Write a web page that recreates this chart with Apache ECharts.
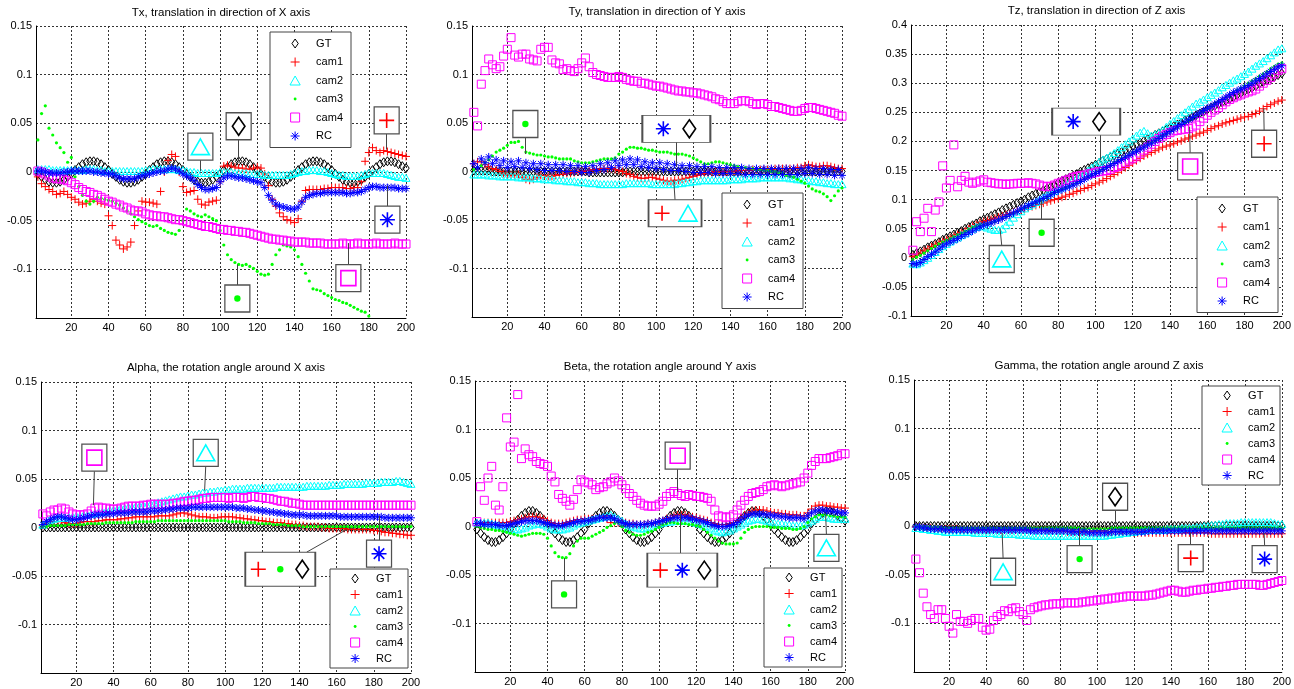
<!DOCTYPE html>
<html>
<head>
<meta charset="UTF-8">
<script src="https://cdn.jsdelivr.net/npm/echarts@6/dist/echarts.min.js"></script>
<style>
  body{margin:0;background:#fff}
  #main{width:1294px;height:689px}
</style>
</head>
<body>
<div id="main"></div>
<script>
// frame numbers (x), every 2nd frame
var frames = [2,4,6,8,10,12,14,16,18,20,
  22,24,26,28,30,32,34,36,38,40,
  42,44,46,48,50,52,54,56,58,60,
  62,64,66,68,70,72,74,76,78,80,
  82,84,86,88,90,92,94,96,98,100,
  102,104,106,108,110,112,114,116,118,120,
  122,124,126,128,130,132,134,136,138,140,
  142,144,146,148,150,152,154,156,158,160,
  162,164,166,168,170,172,174,176,178,180,
  182,184,186,188,190,192,194,196,198,200];
var seriesNames = ['GT','cam1','cam2','cam3','cam4','RC'];

// ---- Tx
var txGT = [-0.002,-0.005,-0.008,-0.010,-0.011,-0.011,-0.010,-0.008,-0.005,-0.002,
  0.002,0.005,0.008,0.010,0.011,0.011,0.010,0.008,0.005,0.002,
  -0.002,-0.005,-0.008,-0.010,-0.011,-0.011,-0.010,-0.008,-0.005,-0.002,
  0.002,0.005,0.008,0.010,0.011,0.011,0.010,0.008,0.005,0.002,
  -0.002,-0.005,-0.008,-0.010,-0.011,-0.011,-0.010,-0.008,-0.005,-0.002,
  0.002,0.005,0.008,0.010,0.011,0.011,0.010,0.008,0.005,0.002,
  -0.002,-0.005,-0.008,-0.010,-0.011,-0.011,-0.010,-0.008,-0.005,-0.002,
  0.002,0.005,0.008,0.010,0.011,0.011,0.010,0.008,0.005,0.002,
  -0.002,-0.005,-0.008,-0.010,-0.011,-0.011,-0.010,-0.008,-0.005,-0.002,
  0.002,0.005,0.008,0.010,0.011,0.011,0.010,0.008,0.006,0.004];
var txCam1 = [-0.005,-0.012,-0.015,-0.018,-0.020,-0.023,-0.022,-0.020,-0.023,-0.026,
  -0.028,-0.031,-0.033,-0.032,-0.030,-0.028,-0.030,-0.032,-0.033,-0.045,
  -0.055,-0.070,-0.075,-0.079,-0.077,-0.072,-0.055,-0.040,-0.030,-0.031,
  -0.031,-0.032,-0.033,-0.020,0.000,0.012,0.018,0.016,0.000,-0.015,
  -0.021,-0.020,-0.019,-0.028,-0.033,-0.034,-0.031,-0.030,-0.029,-0.010,
  0.006,0.007,0.006,0.005,0.004,0.004,0.003,0.003,0.004,0.005,
  0.004,-0.002,-0.014,-0.028,-0.035,-0.042,-0.046,-0.049,-0.050,-0.052,
  -0.048,-0.030,-0.019,-0.018,-0.018,-0.018,-0.018,-0.017,-0.017,-0.016,
  -0.016,-0.016,-0.016,-0.017,-0.017,-0.016,-0.016,-0.010,0.011,0.020,
  0.025,0.022,0.020,0.022,0.021,0.020,0.019,0.018,0.017,0.016];
var txCam2 = [0.003,0.003,0.003,0.003,0.002,0.002,0.002,0.002,0.002,0.002,
  0.002,0.002,0.002,0.003,0.003,0.003,0.002,0.002,0.001,0.001,
  0.001,0.001,0.001,0.001,0.001,0.001,0.001,0.001,0.001,0.002,
  0.002,0.003,0.003,0.003,0.003,0.003,0.003,0.003,0.002,0.002,
  0.001,0.000,0.000,-0.001,-0.001,-0.001,-0.001,-0.001,-0.001,0.000,
  0.000,0.000,0.000,-0.001,-0.001,-0.001,-0.001,-0.002,-0.002,-0.002,
  -0.002,-0.003,-0.003,-0.003,-0.003,-0.003,-0.003,-0.003,-0.002,-0.001,
  0.000,0.001,0.001,0.002,0.002,0.002,0.001,0.001,0.000,-0.001,
  -0.002,-0.003,-0.003,-0.004,-0.004,-0.004,-0.004,-0.003,-0.002,-0.001,
  -0.001,-0.001,-0.001,-0.001,-0.002,-0.003,-0.004,-0.005,-0.005,-0.006];
var txCam3 = [0.033,0.060,0.068,0.045,0.038,0.030,0.025,0.020,0.010,0.015,
  -0.005,-0.015,-0.024,-0.030,-0.033,-0.030,-0.026,-0.027,-0.028,-0.029,
  -0.030,-0.032,-0.034,-0.037,-0.040,-0.043,-0.046,-0.049,-0.051,-0.053,
  -0.055,-0.056,-0.055,-0.058,-0.060,-0.062,-0.063,-0.064,-0.060,-0.050,
  -0.038,-0.040,-0.043,-0.045,-0.046,-0.044,-0.046,-0.048,-0.050,-0.060,
  -0.075,-0.085,-0.090,-0.093,-0.095,-0.096,-0.095,-0.097,-0.099,-0.102,
  -0.105,-0.106,-0.105,-0.095,-0.085,-0.080,-0.075,-0.076,-0.077,-0.080,
  -0.087,-0.095,-0.104,-0.112,-0.120,-0.121,-0.122,-0.125,-0.127,-0.129,
  -0.131,-0.132,-0.134,-0.135,-0.137,-0.139,-0.141,-0.143,-0.144,-0.148,
  -0.152,-0.154,-0.156,-0.158,-0.160,-0.162,-0.163,-0.165,-0.166,-0.168];
var txCam4 = [0.001,0.000,-0.002,-0.004,-0.006,-0.007,-0.007,-0.008,-0.009,-0.011,
  -0.013,-0.016,-0.018,-0.020,-0.021,-0.023,-0.024,-0.026,-0.028,-0.030,
  -0.031,-0.033,-0.034,-0.036,-0.037,-0.039,-0.040,-0.040,-0.041,-0.043,
  -0.044,-0.045,-0.045,-0.046,-0.046,-0.047,-0.048,-0.049,-0.049,-0.050,
  -0.051,-0.052,-0.053,-0.054,-0.055,-0.056,-0.056,-0.057,-0.058,-0.059,
  -0.059,-0.060,-0.060,-0.061,-0.061,-0.062,-0.062,-0.063,-0.064,-0.065,
  -0.066,-0.067,-0.068,-0.069,-0.069,-0.070,-0.070,-0.071,-0.071,-0.072,
  -0.072,-0.072,-0.072,-0.073,-0.073,-0.073,-0.073,-0.074,-0.074,-0.074,
  -0.074,-0.074,-0.073,-0.074,-0.074,-0.074,-0.073,-0.074,-0.074,-0.074,
  -0.074,-0.073,-0.074,-0.074,-0.074,-0.074,-0.073,-0.074,-0.074,-0.074];
var txRC = [0.001,0.001,0.000,-0.001,-0.001,-0.001,-0.001,0.000,0.000,0.001,
  0.001,0.001,0.001,0.001,0.001,0.000,0.000,-0.001,-0.001,-0.002,
  -0.002,-0.004,-0.006,-0.007,-0.007,-0.007,-0.007,-0.005,-0.004,-0.003,
  -0.002,-0.001,0.000,0.001,0.001,0.003,0.004,0.003,0.001,-0.002,
  -0.004,-0.006,-0.009,-0.013,-0.016,-0.018,-0.018,-0.017,-0.016,-0.010,
  -0.006,-0.004,-0.004,-0.005,-0.006,-0.006,-0.007,-0.008,-0.009,-0.010,
  -0.011,-0.016,-0.024,-0.029,-0.033,-0.035,-0.036,-0.037,-0.038,-0.038,
  -0.036,-0.031,-0.026,-0.024,-0.023,-0.022,-0.022,-0.021,-0.021,-0.021,
  -0.021,-0.021,-0.021,-0.022,-0.022,-0.021,-0.021,-0.020,-0.018,-0.016,
  -0.015,-0.015,-0.016,-0.016,-0.016,-0.016,-0.016,-0.017,-0.017,-0.017];

// ---- Ty
var tyGT = [0.001,0.001,0.001,0.001,0.001,0.000,0.000,0.000,0.000,0.000,
  0.000,0.000,0.000,0.000,0.000,0.000,0.000,0.000,0.000,0.000,
  0.000,0.000,0.000,0.000,0.000,0.000,0.000,0.000,0.000,0.000,
  0.000,-0.001,-0.001,-0.001,-0.001,-0.001,-0.001,-0.001,-0.001,-0.001,
  -0.001,0.000,0.000,0.000,0.000,0.000,0.000,0.000,0.000,0.000,
  0.000,0.000,0.000,0.000,0.000,0.000,0.000,0.000,0.000,0.000,
  0.000,0.000,0.000,0.000,0.000,0.000,0.000,0.000,0.000,0.000,
  0.000,0.000,0.000,0.000,0.000,0.000,0.000,0.000,0.000,0.000,
  0.000,0.000,0.000,0.000,0.000,0.000,0.000,0.000,0.000,0.000,
  0.000,0.000,0.000,0.000,0.000,0.000,0.000,0.000,0.000,0.000];
var tyCam1 = [0.008,0.010,0.010,0.007,0.005,0.003,0.002,0.000,-0.002,-0.003,
  -0.004,-0.004,-0.003,-0.006,-0.008,-0.009,-0.008,-0.006,-0.004,-0.004,
  -0.005,-0.005,-0.004,-0.003,-0.003,-0.002,-0.002,-0.001,0.000,0.000,
  0.001,0.001,0.002,0.002,0.003,0.003,0.003,0.003,0.002,0.001,
  0.000,-0.002,-0.003,-0.005,-0.006,-0.007,-0.007,-0.006,-0.006,-0.007,
  -0.008,-0.009,-0.010,-0.010,-0.009,-0.009,-0.008,-0.007,-0.006,-0.005,
  -0.004,-0.003,-0.002,-0.001,-0.001,0.000,0.000,0.000,0.000,0.000,
  0.000,0.001,0.001,0.001,0.001,0.002,0.002,0.002,0.002,0.002,
  0.002,0.003,0.003,0.003,0.003,0.003,0.003,0.004,0.004,0.006,
  0.007,0.006,0.005,0.005,0.006,0.006,0.005,0.004,0.003,0.003];
var tyCam2 = [-0.003,-0.003,-0.003,-0.003,-0.004,-0.004,-0.004,-0.005,-0.005,-0.005,
  -0.005,-0.005,-0.006,-0.006,-0.006,-0.006,-0.007,-0.007,-0.007,-0.008,
  -0.008,-0.008,-0.009,-0.009,-0.009,-0.010,-0.010,-0.010,-0.011,-0.011,
  -0.011,-0.012,-0.012,-0.012,-0.013,-0.013,-0.013,-0.013,-0.013,-0.013,
  -0.013,-0.012,-0.012,-0.012,-0.012,-0.012,-0.012,-0.012,-0.013,-0.013,
  -0.013,-0.013,-0.013,-0.013,-0.013,-0.012,-0.012,-0.011,-0.011,-0.010,
  -0.010,-0.009,-0.009,-0.009,-0.009,-0.009,-0.009,-0.009,-0.009,-0.008,
  -0.008,-0.008,-0.008,-0.007,-0.007,-0.007,-0.007,-0.006,-0.006,-0.006,
  -0.006,-0.006,-0.006,-0.006,-0.006,-0.007,-0.007,-0.008,-0.008,-0.009,
  -0.009,-0.010,-0.010,-0.011,-0.011,-0.012,-0.012,-0.013,-0.013,-0.013];
var tyCam3 = [0.002,0.004,0.006,0.009,0.012,0.016,0.020,0.022,0.024,0.027,
  0.030,0.030,0.031,0.025,0.020,0.019,0.018,0.017,0.017,0.016,
  0.015,0.015,0.014,0.013,0.013,0.013,0.013,0.011,0.010,0.009,
  0.009,0.009,0.010,0.011,0.012,0.013,0.013,0.013,0.014,0.018,
  0.020,0.023,0.025,0.025,0.024,0.024,0.023,0.022,0.022,0.021,
  0.020,0.020,0.020,0.019,0.018,0.018,0.018,0.017,0.016,0.014,
  0.012,0.010,0.008,0.008,0.009,0.010,0.010,0.009,0.008,0.007,
  0.006,0.005,0.004,0.004,0.003,0.003,0.002,0.002,0.001,0.001,
  0.000,0.000,-0.001,-0.002,-0.004,-0.005,-0.006,-0.008,-0.010,-0.012,
  -0.015,-0.018,-0.020,-0.021,-0.023,-0.026,-0.030,-0.025,-0.020,-0.017];
var tyCam4 = [0.061,0.047,0.090,0.104,0.116,0.110,0.106,0.108,0.119,0.126,
  0.138,0.120,0.118,0.121,0.121,0.116,0.115,0.114,0.126,0.128,
  0.128,0.115,0.112,0.111,0.105,0.106,0.104,0.103,0.106,0.112,
  0.117,0.108,0.102,0.100,0.099,0.098,0.097,0.097,0.097,0.098,
  0.097,0.095,0.094,0.093,0.093,0.091,0.091,0.090,0.089,0.088,
  0.088,0.087,0.086,0.085,0.084,0.083,0.083,0.082,0.082,0.081,
  0.081,0.080,0.079,0.078,0.077,0.075,0.074,0.072,0.070,0.070,
  0.070,0.072,0.073,0.073,0.072,0.070,0.069,0.070,0.070,0.069,
  0.067,0.067,0.066,0.065,0.064,0.063,0.062,0.062,0.063,0.065,
  0.066,0.066,0.065,0.064,0.063,0.062,0.061,0.060,0.058,0.057];
var tyRC = [0.008,0.004,0.013,0.009,0.015,0.008,0.012,0.006,0.011,0.004,
  0.010,0.005,0.011,0.004,0.009,0.003,0.008,0.002,0.008,0.001,
  0.007,0.001,0.007,0.001,0.007,0.000,0.006,0.000,0.006,-0.001,
  0.005,-0.001,0.006,0.001,0.008,0.002,0.009,0.004,0.011,0.006,
  0.012,0.007,0.013,0.007,0.012,0.005,0.010,0.004,0.009,0.003,
  0.009,0.002,0.008,0.001,0.007,0.001,0.006,0.000,0.006,-0.001,
  0.005,-0.001,0.005,-0.001,0.005,-0.002,0.004,-0.002,0.004,-0.002,
  0.004,-0.002,0.004,-0.003,0.003,-0.003,0.003,-0.003,0.003,-0.003,
  0.003,-0.003,0.003,-0.003,0.003,-0.003,0.003,-0.003,0.003,-0.002,
  0.004,-0.002,0.003,-0.003,0.003,-0.003,0.002,-0.004,0.002,-0.004];

// ---- Tz
var tzGT = [0.005,0.008,0.011,0.014,0.018,0.021,0.024,0.027,0.031,0.034,
  0.037,0.040,0.043,0.046,0.050,0.053,0.056,0.059,0.063,0.066,
  0.069,0.072,0.075,0.078,0.082,0.085,0.088,0.091,0.094,0.097,
  0.100,0.104,0.107,0.110,0.113,0.116,0.119,0.122,0.125,0.129,
  0.132,0.135,0.138,0.141,0.144,0.148,0.151,0.154,0.157,0.160,
  0.163,0.167,0.170,0.173,0.176,0.179,0.182,0.185,0.188,0.192,
  0.195,0.198,0.201,0.204,0.207,0.211,0.214,0.217,0.220,0.223,
  0.226,0.229,0.232,0.236,0.239,0.242,0.245,0.248,0.251,0.255,
  0.258,0.261,0.264,0.267,0.270,0.273,0.276,0.280,0.283,0.286,
  0.289,0.292,0.295,0.299,0.302,0.305,0.308,0.311,0.314,0.317];
var tzCam1 = [0.002,0.005,0.008,0.012,0.015,0.019,0.022,0.025,0.028,0.031,
  0.034,0.037,0.040,0.043,0.046,0.050,0.054,0.057,0.060,0.062,
  0.064,0.066,0.068,0.070,0.072,0.074,0.076,0.078,0.080,0.082,
  0.084,0.086,0.088,0.090,0.092,0.094,0.096,0.098,0.100,0.102,
  0.104,0.106,0.109,0.111,0.114,0.116,0.119,0.121,0.124,0.127,
  0.130,0.133,0.136,0.140,0.143,0.147,0.151,0.155,0.159,0.163,
  0.167,0.171,0.175,0.178,0.181,0.184,0.187,0.190,0.192,0.194,
  0.196,0.199,0.201,0.204,0.206,0.209,0.211,0.214,0.216,0.219,
  0.222,0.225,0.227,0.230,0.232,0.234,0.236,0.238,0.240,0.242,
  0.243,0.246,0.248,0.252,0.256,0.260,0.263,0.266,0.269,0.271];
var tzCam2 = [-0.010,-0.011,-0.008,-0.004,0.000,0.005,0.010,0.015,0.020,0.024,
  0.028,0.032,0.035,0.039,0.042,0.046,0.050,0.053,0.055,0.054,
  0.052,0.050,0.048,0.048,0.050,0.056,0.062,0.069,0.075,0.080,
  0.085,0.089,0.092,0.096,0.100,0.104,0.108,0.112,0.115,0.119,
  0.122,0.126,0.130,0.134,0.137,0.141,0.145,0.150,0.155,0.160,
  0.165,0.169,0.172,0.176,0.180,0.185,0.190,0.195,0.200,0.205,
  0.210,0.215,0.218,0.214,0.210,0.212,0.215,0.220,0.225,0.230,
  0.235,0.240,0.245,0.250,0.255,0.260,0.265,0.268,0.272,0.276,
  0.280,0.284,0.288,0.293,0.297,0.301,0.305,0.308,0.312,0.316,
  0.320,0.325,0.330,0.334,0.338,0.343,0.348,0.353,0.358,0.360];
var tzCam3 = [-0.003,0.001,0.004,0.008,0.012,0.016,0.020,0.024,0.027,0.030,
  0.033,0.036,0.039,0.042,0.045,0.049,0.052,0.054,0.056,0.057,
  0.058,0.060,0.062,0.065,0.068,0.071,0.074,0.077,0.080,0.083,
  0.086,0.089,0.092,0.095,0.098,0.101,0.104,0.110,0.113,0.115,
  0.118,0.121,0.124,0.127,0.130,0.133,0.136,0.139,0.142,0.146,
  0.150,0.153,0.157,0.160,0.164,0.167,0.171,0.174,0.178,0.181,
  0.185,0.188,0.192,0.195,0.198,0.202,0.205,0.209,0.212,0.216,
  0.220,0.224,0.228,0.232,0.236,0.240,0.244,0.248,0.252,0.256,
  0.260,0.264,0.268,0.272,0.276,0.280,0.284,0.288,0.292,0.296,
  0.300,0.304,0.308,0.312,0.316,0.320,0.325,0.329,0.333,0.335];
var tzCam4 = [0.013,0.062,0.045,0.068,0.085,0.045,0.082,0.096,0.158,0.120,
  0.133,0.194,0.122,0.133,0.140,0.130,0.128,0.130,0.132,0.134,
  0.130,0.129,0.128,0.127,0.127,0.126,0.127,0.127,0.128,0.128,
  0.128,0.129,0.128,0.127,0.125,0.123,0.122,0.123,0.125,0.128,
  0.130,0.133,0.135,0.138,0.140,0.141,0.142,0.144,0.145,0.147,
  0.148,0.149,0.150,0.152,0.155,0.157,0.160,0.164,0.168,0.171,
  0.175,0.180,0.185,0.190,0.195,0.200,0.205,0.209,0.212,0.215,
  0.218,0.219,0.220,0.221,0.222,0.225,0.228,0.234,0.240,0.245,
  0.250,0.254,0.258,0.263,0.268,0.272,0.275,0.278,0.280,0.283,
  0.285,0.287,0.290,0.295,0.300,0.305,0.310,0.316,0.322,0.325];
var tzRC = [-0.010,-0.011,-0.008,-0.003,0.002,0.006,0.010,0.015,0.020,0.024,
  0.027,0.030,0.033,0.037,0.040,0.043,0.046,0.050,0.053,0.056,
  0.058,0.060,0.063,0.065,0.068,0.071,0.074,0.077,0.080,0.084,
  0.087,0.090,0.093,0.096,0.099,0.102,0.105,0.108,0.112,0.115,
  0.117,0.120,0.122,0.125,0.128,0.131,0.135,0.139,0.142,0.145,
  0.148,0.152,0.155,0.159,0.162,0.166,0.169,0.173,0.176,0.180,
  0.183,0.187,0.190,0.194,0.197,0.201,0.205,0.209,0.213,0.217,
  0.221,0.225,0.229,0.233,0.237,0.241,0.245,0.249,0.253,0.257,
  0.260,0.264,0.268,0.272,0.276,0.280,0.284,0.287,0.290,0.293,
  0.296,0.300,0.304,0.308,0.312,0.316,0.320,0.324,0.328,0.330];

// ---- Alpha
var alGT = [0,0,0,0,0,0,0,0,0,0, 0,0,0,0,0,0,0,0,0,0,
  0,0,0,0,0,0,0,0,0,0, 0,0,0,0,0,0,0,0,0,0,
  0,0,0,0,0,0,0,0,0,0, 0,0,0,0,0,0,0,0,0,0,
  0,0,0,0,0,0,0,0,0,0, 0,0,0,0,0,0,0,0,0,0,
  0,0,0,0,0,0,0,0,0,0, 0,0,0,0,0,0,0,0,0,0];
var alCam1 = [0.002,0.004,0.005,0.006,0.006,0.006,0.005,0.004,0.004,0.004,
  0.005,0.006,0.006,0.006,0.006,0.007,0.007,0.008,0.008,0.008,
  0.008,0.009,0.009,0.010,0.010,0.011,0.011,0.011,0.011,0.011,
  0.011,0.012,0.012,0.012,0.012,0.013,0.014,0.015,0.015,0.014,
  0.013,0.012,0.011,0.011,0.011,0.010,0.010,0.010,0.011,0.011,
  0.011,0.011,0.010,0.010,0.009,0.009,0.008,0.008,0.007,0.007,
  0.006,0.006,0.005,0.005,0.005,0.004,0.004,0.003,0.003,0.002,
  0.002,0.001,0.001,0.001,0.001,0.000,0.000,-0.001,-0.001,-0.001,
  -0.001,-0.001,-0.002,-0.002,-0.002,-0.002,-0.002,-0.002,-0.002,-0.003,
  -0.003,-0.004,-0.005,-0.005,-0.006,-0.006,-0.007,-0.007,-0.008,-0.008];
var alCam2 = [0.003,0.006,0.008,0.009,0.010,0.010,0.010,0.011,0.011,0.012,
  0.012,0.013,0.013,0.014,0.015,0.016,0.016,0.017,0.018,0.018,
  0.019,0.020,0.020,0.021,0.021,0.022,0.022,0.023,0.023,0.024,
  0.025,0.026,0.027,0.028,0.029,0.030,0.031,0.032,0.032,0.033,
  0.034,0.034,0.035,0.036,0.036,0.037,0.037,0.038,0.038,0.039,
  0.039,0.040,0.040,0.040,0.040,0.041,0.041,0.041,0.041,0.041,
  0.041,0.041,0.041,0.042,0.042,0.042,0.042,0.042,0.042,0.042,
  0.042,0.043,0.043,0.043,0.043,0.043,0.043,0.044,0.044,0.044,
  0.044,0.045,0.045,0.045,0.045,0.045,0.045,0.046,0.046,0.046,
  0.046,0.047,0.047,0.047,0.047,0.048,0.048,0.047,0.046,0.045];
var alCam3 = [0.001,0.001,0.002,0.002,0.002,0.002,0.002,0.003,0.003,0.003,
  0.003,0.003,0.004,0.004,0.004,0.004,0.004,0.005,0.005,0.005,
  0.005,0.005,0.005,0.005,0.005,0.006,0.006,0.006,0.006,0.006,
  0.006,0.007,0.007,0.007,0.007,0.007,0.007,0.007,0.007,0.007,
  0.007,0.007,0.007,0.007,0.007,0.007,0.007,0.007,0.007,0.007,
  0.006,0.006,0.006,0.006,0.005,0.005,0.005,0.005,0.004,0.004,
  0.004,0.004,0.003,0.003,0.003,0.003,0.002,0.002,0.002,0.002,
  0.001,0.001,0.001,0.001,0.001,0.001,0.001,0.001,0.001,0.001,
  0.001,0.001,0.001,0.001,0.001,0.001,0.001,0.001,0.001,0.001,
  0.001,0.001,0.001,0.001,0.001,0.001,0.001,0.001,0.001,0.001];
var alCam4 = [0.014,0.012,0.016,0.018,0.018,0.020,0.019,0.016,0.014,0.013,
  0.013,0.013,0.014,0.017,0.020,0.021,0.020,0.020,0.019,0.019,
  0.019,0.020,0.021,0.022,0.022,0.022,0.022,0.023,0.023,0.024,
  0.024,0.024,0.024,0.024,0.024,0.025,0.025,0.026,0.027,0.027,
  0.028,0.028,0.029,0.030,0.030,0.031,0.031,0.031,0.031,0.031,
  0.030,0.031,0.031,0.031,0.030,0.031,0.032,0.032,0.031,0.031,
  0.030,0.030,0.029,0.028,0.027,0.027,0.026,0.025,0.025,0.024,
  0.023,0.023,0.023,0.023,0.023,0.023,0.023,0.023,0.023,0.023,
  0.023,0.023,0.023,0.023,0.023,0.023,0.023,0.023,0.023,0.023,
  0.023,0.023,0.023,0.023,0.023,0.023,0.023,0.023,0.023,0.023];
var alRC = [0.003,0.006,0.008,0.010,0.011,0.011,0.010,0.009,0.008,0.008,
  0.009,0.010,0.011,0.012,0.013,0.013,0.013,0.014,0.014,0.014,
  0.015,0.015,0.015,0.015,0.016,0.016,0.016,0.016,0.016,0.017,
  0.017,0.017,0.018,0.018,0.019,0.019,0.020,0.020,0.020,0.020,
  0.021,0.021,0.021,0.021,0.021,0.021,0.021,0.021,0.021,0.021,
  0.021,0.021,0.020,0.020,0.020,0.019,0.019,0.018,0.018,0.017,
  0.017,0.016,0.016,0.015,0.015,0.014,0.014,0.013,0.013,0.013,
  0.013,0.012,0.012,0.012,0.012,0.012,0.012,0.012,0.012,0.012,
  0.011,0.011,0.011,0.011,0.011,0.011,0.011,0.011,0.011,0.011,
  0.011,0.011,0.010,0.010,0.010,0.010,0.010,0.010,0.010,0.010];

// ---- Beta
var beGT = [-0.003,-0.007,-0.011,-0.014,-0.016,-0.016,-0.014,-0.011,-0.007,-0.003,
  0.003,0.007,0.011,0.014,0.016,0.016,0.014,0.011,0.007,0.003,
  -0.003,-0.007,-0.011,-0.014,-0.016,-0.016,-0.014,-0.011,-0.007,-0.003,
  0.003,0.007,0.011,0.014,0.016,0.016,0.014,0.011,0.007,0.003,
  -0.003,-0.007,-0.011,-0.014,-0.016,-0.016,-0.014,-0.011,-0.007,-0.003,
  0.003,0.007,0.011,0.014,0.016,0.016,0.014,0.011,0.007,0.003,
  -0.003,-0.007,-0.011,-0.014,-0.016,-0.016,-0.014,-0.011,-0.007,-0.003,
  0.003,0.007,0.011,0.014,0.016,0.016,0.014,0.011,0.007,0.003,
  -0.003,-0.007,-0.011,-0.014,-0.016,-0.016,-0.014,-0.011,-0.007,-0.003,
  0.003,0.007,0.011,0.014,0.016,0.016,0.014,0.011,0.008,0.006];
var beCam1 = [0.003,0.003,0.004,0.004,0.004,0.004,0.004,0.004,0.004,0.005,
  0.006,0.007,0.008,0.009,0.010,0.010,0.010,0.009,0.008,0.006,
  0.004,0.003,0.003,0.003,0.004,0.005,0.006,0.007,0.007,0.008,
  0.008,0.008,0.008,0.009,0.010,0.008,0.004,0.004,0.004,0.004,
  0.004,0.003,0.003,0.002,0.002,0.002,0.003,0.003,0.004,0.005,
  0.006,0.008,0.009,0.011,0.012,0.012,0.012,0.011,0.010,0.009,
  0.008,0.007,0.006,0.004,0.003,0.002,0.002,0.002,0.003,0.004,
  0.006,0.009,0.012,0.014,0.016,0.017,0.017,0.017,0.016,0.015,
  0.014,0.014,0.013,0.013,0.012,0.012,0.012,0.011,0.011,0.014,
  0.018,0.021,0.022,0.022,0.021,0.021,0.020,0.020,0.019,0.019];
var beCam2 = [0.004,0.004,0.004,0.004,0.003,0.002,0.001,0.000,-0.002,-0.003,
  -0.003,-0.003,-0.002,-0.001,0.001,0.002,0.003,0.003,0.002,0.000,
  -0.002,-0.003,-0.003,-0.003,-0.002,-0.001,0.001,0.003,0.004,0.005,
  0.006,0.007,0.008,0.009,0.010,0.011,0.012,0.010,0.008,0.006,
  0.003,0.001,0.000,-0.001,-0.002,-0.002,-0.001,0.000,0.002,0.003,
  0.004,0.005,0.005,0.006,0.006,0.006,0.006,0.006,0.005,0.004,
  0.003,0.001,0.000,-0.002,-0.004,-0.005,-0.006,-0.005,-0.004,-0.002,
  0.000,0.002,0.004,0.006,0.007,0.008,0.008,0.007,0.006,0.005,
  0.004,0.003,0.003,0.002,0.002,0.001,0.001,0.001,0.002,0.004,
  0.006,0.008,0.010,0.010,0.010,0.009,0.008,0.008,0.008,0.008];
var beCam3 = [0.000,-0.001,-0.002,-0.003,-0.003,-0.004,-0.004,-0.005,-0.006,-0.007,
  -0.008,-0.009,-0.010,-0.009,-0.008,-0.007,-0.007,-0.007,-0.008,-0.012,
  -0.020,-0.027,-0.031,-0.032,-0.032,-0.028,-0.020,-0.015,-0.012,-0.012,
  -0.012,-0.010,-0.008,-0.006,-0.004,-0.001,0.001,0.003,0.004,0.000,
  -0.004,-0.006,-0.008,-0.009,-0.009,-0.008,-0.006,-0.005,-0.003,-0.001,
  0.002,0.003,0.004,0.004,0.003,0.003,0.003,0.002,0.002,0.001,
  0.000,-0.003,-0.006,-0.009,-0.012,-0.015,-0.017,-0.018,-0.018,-0.018,
  -0.017,-0.012,-0.006,-0.003,-0.001,0.000,0.000,0.000,0.000,-0.001,
  -0.001,-0.001,-0.002,-0.002,-0.002,-0.003,-0.003,-0.002,0.000,0.004,
  0.008,0.010,0.012,0.012,0.012,0.011,0.011,0.010,0.010,0.010];
var beCam4 = [0.005,0.041,0.027,0.050,0.062,0.022,0.017,0.041,0.112,0.082,
  0.087,0.136,0.070,0.080,0.074,0.072,0.067,0.065,0.064,0.062,
  0.052,0.046,0.033,0.029,0.026,0.022,0.028,0.038,0.048,0.046,
  0.045,0.043,0.038,0.040,0.041,0.044,0.046,0.050,0.047,0.043,
  0.039,0.034,0.031,0.027,0.024,0.022,0.021,0.021,0.021,0.023,
  0.026,0.031,0.034,0.036,0.034,0.032,0.031,0.033,0.032,0.031,
  0.031,0.030,0.029,0.026,0.017,0.011,0.010,0.009,0.010,0.012,
  0.017,0.022,0.027,0.031,0.034,0.035,0.036,0.038,0.041,0.042,
  0.043,0.042,0.041,0.042,0.043,0.044,0.045,0.046,0.050,0.055,
  0.063,0.067,0.070,0.070,0.070,0.071,0.072,0.073,0.075,0.075];
var beRC = [0.003,0.003,0.002,0.002,0.002,0.002,0.001,0.001,0.001,0.002,
  0.003,0.004,0.005,0.006,0.006,0.006,0.006,0.005,0.004,0.003,
  0.002,0.001,0.001,0.001,0.002,0.003,0.004,0.005,0.005,0.006,
  0.006,0.007,0.008,0.009,0.009,0.009,0.009,0.008,0.006,0.004,
  0.003,0.002,0.002,0.002,0.002,0.002,0.003,0.003,0.004,0.005,
  0.006,0.007,0.008,0.009,0.009,0.009,0.009,0.009,0.008,0.007,
  0.006,0.005,0.004,0.002,0.001,0.000,0.000,0.000,0.001,0.002,
  0.004,0.007,0.010,0.012,0.013,0.013,0.013,0.013,0.012,0.012,
  0.011,0.011,0.010,0.010,0.009,0.009,0.009,0.009,0.008,0.011,
  0.014,0.016,0.017,0.017,0.016,0.016,0.015,0.015,0.014,0.014];

// ---- Gamma
var gaGT = [0,0,0,0,0,0,0,0,0,0, 0,0,0,0,0,0,0,0,0,0,
  0,0,0,0,0,0,0,0,0,0, 0,0,0,0,0,0,0,0,0,0,
  0,0,0,0,0,0,0,0,0,0, 0,0,0,0,0,0,0,0,0,0,
  0,0,0,0,0,0,0,0,0,0, 0,0,0,0,0,0,0,0,0,0,
  0,0,0,0,0,0,0,0,0,0, 0,0,0,0,0,0,0,0,0,0];
var gaCam1 = [-0.001,-0.001,-0.002,-0.002,-0.002,-0.003,-0.003,-0.003,-0.003,-0.003,
  -0.003,-0.003,-0.004,-0.004,-0.004,-0.004,-0.004,-0.004,-0.004,-0.004,
  -0.004,-0.004,-0.004,-0.004,-0.004,-0.004,-0.004,-0.004,-0.004,-0.004,
  -0.004,-0.004,-0.004,-0.004,-0.004,-0.004,-0.005,-0.005,-0.005,-0.005,
  -0.005,-0.006,-0.006,-0.006,-0.006,-0.006,-0.006,-0.006,-0.005,-0.005,
  -0.005,-0.005,-0.006,-0.006,-0.006,-0.006,-0.007,-0.007,-0.007,-0.007,
  -0.007,-0.007,-0.007,-0.007,-0.007,-0.007,-0.007,-0.007,-0.007,-0.007,
  -0.007,-0.007,-0.007,-0.007,-0.007,-0.007,-0.007,-0.007,-0.007,-0.007,
  -0.008,-0.008,-0.008,-0.008,-0.008,-0.008,-0.008,-0.008,-0.008,-0.008,
  -0.008,-0.008,-0.008,-0.008,-0.008,-0.008,-0.008,-0.008,-0.008,-0.008];
var gaCam2 = [-0.002,-0.002,-0.003,-0.003,-0.004,-0.004,-0.005,-0.005,-0.006,-0.006,
  -0.006,-0.006,-0.006,-0.006,-0.006,-0.006,-0.007,-0.007,-0.007,-0.007,
  -0.007,-0.007,-0.008,-0.008,-0.008,-0.008,-0.008,-0.008,-0.009,-0.009,
  -0.009,-0.009,-0.010,-0.010,-0.010,-0.010,-0.010,-0.010,-0.010,-0.010,
  -0.010,-0.010,-0.010,-0.010,-0.010,-0.010,-0.010,-0.010,-0.010,-0.010,
  -0.010,-0.010,-0.009,-0.009,-0.008,-0.008,-0.007,-0.007,-0.006,-0.006,
  -0.005,-0.005,-0.004,-0.004,-0.004,-0.004,-0.004,-0.004,-0.003,-0.003,
  -0.003,-0.003,-0.002,-0.002,-0.002,-0.002,-0.001,-0.001,0.000,0.000,
  0.001,0.001,0.002,0.002,0.003,0.003,0.003,0.003,0.004,0.004,
  0.004,0.004,0.004,0.004,0.004,0.004,0.004,0.003,0.002,0.002];
var gaCam3 = [0.000,-0.001,-0.001,-0.001,-0.001,-0.001,-0.001,-0.002,-0.002,-0.002,
  -0.002,-0.002,-0.002,-0.002,-0.002,-0.002,-0.002,-0.002,-0.002,-0.002,
  -0.002,-0.002,-0.002,-0.002,-0.002,-0.002,-0.002,-0.002,-0.002,-0.002,
  -0.002,-0.002,-0.002,-0.002,-0.002,-0.002,-0.002,-0.002,-0.002,-0.002,
  -0.002,-0.002,-0.002,-0.002,-0.002,-0.003,-0.003,-0.003,-0.003,-0.003,
  -0.003,-0.003,-0.003,-0.002,-0.002,-0.002,-0.002,-0.002,-0.002,-0.002,
  -0.002,-0.002,-0.002,-0.002,-0.002,-0.002,-0.002,-0.002,-0.002,-0.002,
  -0.002,-0.002,-0.002,-0.002,-0.002,-0.002,-0.002,-0.002,-0.002,-0.002,
  -0.002,-0.002,-0.002,-0.002,-0.002,-0.002,-0.002,-0.002,-0.002,-0.002,
  -0.002,-0.002,-0.002,-0.002,-0.002,-0.002,-0.002,-0.002,-0.002,-0.002];
var gaCam4 = [-0.034,-0.048,-0.069,-0.083,-0.091,-0.095,-0.086,-0.086,-0.095,-0.103,
  -0.110,-0.091,-0.098,-0.098,-0.100,-0.097,-0.095,-0.095,-0.104,-0.107,
  -0.106,-0.097,-0.093,-0.091,-0.087,-0.088,-0.085,-0.084,-0.088,-0.091,
  -0.097,-0.086,-0.084,-0.083,-0.082,-0.081,-0.081,-0.080,-0.080,-0.080,
  -0.079,-0.079,-0.079,-0.079,-0.079,-0.078,-0.078,-0.077,-0.077,-0.076,
  -0.076,-0.075,-0.075,-0.074,-0.074,-0.073,-0.073,-0.072,-0.072,-0.072,
  -0.072,-0.072,-0.072,-0.071,-0.071,-0.070,-0.069,-0.068,-0.067,-0.066,
  -0.066,-0.067,-0.068,-0.068,-0.067,-0.066,-0.066,-0.065,-0.065,-0.064,
  -0.064,-0.063,-0.063,-0.062,-0.062,-0.061,-0.061,-0.060,-0.060,-0.060,
  -0.060,-0.060,-0.060,-0.061,-0.061,-0.060,-0.059,-0.058,-0.057,-0.056];
var gaRC = [-0.001,-0.001,-0.002,-0.002,-0.003,-0.003,-0.003,-0.003,-0.004,-0.004,
  -0.004,-0.004,-0.004,-0.004,-0.004,-0.004,-0.004,-0.004,-0.004,-0.004,
  -0.004,-0.004,-0.004,-0.004,-0.004,-0.004,-0.004,-0.004,-0.004,-0.004,
  -0.004,-0.005,-0.005,-0.005,-0.005,-0.005,-0.005,-0.005,-0.005,-0.005,
  -0.005,-0.005,-0.006,-0.006,-0.006,-0.006,-0.006,-0.007,-0.007,-0.007,
  -0.007,-0.007,-0.007,-0.006,-0.006,-0.006,-0.006,-0.006,-0.006,-0.006,
  -0.006,-0.006,-0.006,-0.005,-0.005,-0.005,-0.005,-0.005,-0.005,-0.005,
  -0.005,-0.005,-0.005,-0.005,-0.005,-0.005,-0.005,-0.005,-0.005,-0.005,
  -0.005,-0.005,-0.005,-0.005,-0.005,-0.005,-0.005,-0.005,-0.005,-0.005,
  -0.005,-0.005,-0.005,-0.005,-0.005,-0.005,-0.005,-0.005,-0.005,-0.005];

// data tips: box centre, markers shown, and the point the leader goes to
var notesTx = [
  {at:[89.4,0.026], icons:['cam2'], to:[89.4,0.001]},
  {at:[110,0.047], icons:['GT'], to:[110,0.011]},
  {at:[189.6,0.053], icons:['cam1'], to:[189.6,0.023]},
  {at:[190,-0.049], icons:['RC'], to:[190,-0.014]},
  {at:[169,-0.109], icons:['cam4'], to:[169,-0.073]},
  {at:[109.3,-0.13], icons:['cam3'], to:[109.3,-0.095]}
];
var notesTy = [
  {at:[29.7,0.049], icons:['cam3'], to:[29.7,0.018]},
  {at:[110.9,0.044], icons:['RC','GT'], w:68, to:[111,0.005]},
  {at:[110.2,-0.043], icons:['cam1','cam2'], w:53, to:[109.5,-0.0085]}
];
var notesTz = [
  {at:[95,0.234], icons:['RC','GT'], w:68, from:[102.8,0.2108], to:[102.8,0.168]},
  {at:[49.7,-0.002], icons:['cam2'], to:[48.8,0.05]},
  {at:[71.1,0.043], icons:['cam3'], to:[71.1,0.099]},
  {at:[150.8,0.157], icons:['cam4'], to:[150.5,0.225]},
  {at:[190.5,0.196], icons:['cam1'], to:[190.3,0.257]}
];
var notesAl = [
  {at:[29.7,0.072], icons:['cam4'], to:[29.2,0.023]},
  {at:[89.6,0.077], icons:['cam2'], to:[89,0.038]},
  {at:[129.7,-0.043], icons:['cam1','cam3','GT'], from:[143.9,-0.0254], to:[165.4,-0.002]},
  {at:[182.8,-0.027], icons:['RC'], to:[182.8,0.012]}
];
var notesBe = [
  {at:[110,0.073], icons:['cam4'], to:[110,0.036]},
  {at:[48.9,-0.07], icons:['cam3'], to:[48.9,-0.0325]},
  {at:[112.5,-0.045], icons:['cam1','RC','GT'], from:[111.3,-0.0275], to:[111.3,0.0154]},
  {at:[190,-0.022], icons:['cam2'], to:[189.6,0.012]}
];
var notesGa = [
  {at:[109.8,0.03], icons:['GT'], to:[109.8,0.002]},
  {at:[49.2,-0.047], icons:['cam2'], to:[48.7,-0.007]},
  {at:[90.6,-0.034], icons:['cam3'], to:[90.6,-0.002]},
  {at:[150.7,-0.033], icons:['cam1'], to:[150.7,-0.007]},
  {at:[190.7,-0.034], icons:['RC'], to:[190.4,-0.007]}
];

// marker look, MATLAB style
var marks = {
  GT:   {path:'path://M5,0L8.5,5L5,10L1.5,5Z', size:9, tip:18, fill:'rgba(0,0,0,0)', line:'#000000'},
  cam1: {path:'path://M5,0L5,10M0,5L10,5', size:8, tip:15, fill:'rgba(0,0,0,0)', line:'#ff0000'},
  cam2: {path:'path://M5,0.6L10,9.4L0,9.4Z', size:8, tip:18, fill:'rgba(0,0,0,0)', line:'#00ffff'},
  cam3: {path:'path://M0,0L0,0M10,10L10,10M5,3.4A1.6,1.6,0,1,1,5,6.6A1.6,1.6,0,1,1,5,3.4Z', size:10, tip:20, fill:'#00ff00', line:null},
  cam4: {path:'path://M0,0L10,0L10,10L0,10Z', size:8, tip:15, fill:'rgba(0,0,0,0)', line:'#ff00ff'},
  RC:   {path:'path://M5,0L5,10M0,5L10,5M1.5,1.5L8.5,8.5M8.5,1.5L1.5,8.5', size:8, tip:15, fill:'rgba(0,0,0,0)', line:'#0000ff'}
};

var panels = [
  {title:'Tx, translation in direction of X axis', vals:[txGT,txCam1,txCam2,txCam3,txCam4,txRC],
   y:[-0.15,0.15], grid:[36,26,370,292], titleTop:7, legend:[270,32], big:true, notes:notesTx, upp:986.7},
  {title:'Ty, translation in direction of Y axis', vals:[tyGT,tyCam1,tyCam2,tyCam3,tyCam4,tyRC],
   y:[-0.15,0.15], grid:[472,26,370,291], titleTop:6, legend:[722,193], big:true, notes:notesTy, upp:980},
  {title:'Tz, translation in direction of Z axis', vals:[tzGT,tzCam1,tzCam2,tzCam3,tzCam4,tzRC],
   y:[-0.1,0.4], grid:[911,25,371,291], titleTop:5, legend:[1197,197], big:true, notes:notesTz, upp:582},
  {title:'Alpha, the rotation angle around X axis', vals:[alGT,alCam1,alCam2,alCam3,alCam4,alRC],
   y:[-0.15,0.15], grid:[41,382,370,291], titleTop:362, legend:[330,569], big:false, notes:notesAl, upp:966.7},
  {title:'Beta, the rotation angle around Y axis', vals:[beGT,beCam1,beCam2,beCam3,beCam4,beRC],
   y:[-0.15,0.15], grid:[475,381,370,291], titleTop:361, legend:[764,568], big:false, notes:notesBe, upp:973.3},
  {title:'Gamma, the rotation angle around Z axis', vals:[gaGT,gaCam1,gaCam2,gaCam3,gaCam4,gaRC],
   y:[-0.15,0.15], grid:[914,380,370,292], titleTop:360, legend:[1202,386], big:false, notes:notesGa, upp:966.7}
];

var FONT = 'Liberation Sans, Arial, sans-serif';
var gridLine = {show:true, lineStyle:{color:'#333', width:1, type:[2,2]}};

var option = {
  animation: false,
  backgroundColor: '#fff',
  textStyle: {fontFamily: FONT},
  title: [], grid: [], xAxis: [], yAxis: [], legend: [], series: []
};

panels.forEach(function (p, i) {
  option.title.push({
    text: p.title, left: p.grid[0] + p.grid[2] / 2, top: p.titleTop, textAlign: 'center', padding: 0,
    textStyle: {fontSize: 11.5, fontWeight: 'normal', color: '#000', fontFamily: FONT}
  });
  option.grid.push({left: p.grid[0], top: p.grid[1], width: p.grid[2], height: p.grid[3]});
  option.xAxis.push({
    type: 'value', gridIndex: i, min: 1, max: 200, splitNumber: 10,
    axisLine: {show: true, onZero: false, lineStyle: {color: '#000', width: 1}},
    axisTick: {show: false},
    axisLabel: {showMinLabel: false, fontSize: 11, color: '#000', margin: 4, fontFamily: FONT},
    splitLine: gridLine
  });
  option.yAxis.push({
    type: 'value', gridIndex: i, min: p.y[0], max: p.y[1], interval: 0.05,
    axisLine: {show: true, onZero: false, lineStyle: {color: '#000', width: 1}},
    axisTick: {show: false},
    axisLabel: {showMinLabel: p.y[0] !== -0.15, fontSize: 11, color: '#000', margin: 4, fontFamily: FONT},
    splitLine: gridLine
  });
  option.legend.push({
    data: seriesNames, orient: 'vertical', left: p.legend[0], top: p.legend[1],
    itemWidth: 32, itemHeight: 9, itemGap: p.big ? 7.5 : 5,
    padding: p.big ? [6, 8, 6, 19.5] : [4, 5, 4, 19.5],
    backgroundColor: '#fff', borderColor: '#444', borderWidth: 1,
    selectedMode: false,
    itemStyle: {borderWidth: 1},
    textStyle: {fontSize: 11, color: '#000', fontFamily: FONT}
  });

  seriesNames.forEach(function (name, k) {
    var m = marks[name];
    option.series.push({
      type: 'scatter', name: name, xAxisIndex: i, yAxisIndex: i,
      symbol: m.path, symbolSize: m.size, symbolKeepAspect: true,
      itemStyle: {color: m.fill, borderColor: m.line || 'rgba(0,0,0,0)', borderWidth: m.line ? 1 : 0, opacity: 1},
      emphasis: {disabled: true},
      data: frames.map(function (f, j) { return [f, p.vals[k][j]]; })
    });
  });

  // data tip boxes with their leader lines
  var items = [], lines = [];
  p.notes.forEach(function (n) {
    var cnt = n.icons.length;
    var w = n.w || (cnt === 1 ? 25 : 70);
    var h = cnt === 3 ? 34 : 27;
    items.push({value: n.at, symbol: 'rect', symbolSize: [w, h],
      itemStyle: {color: '#ffffff', borderColor: '#505050', borderWidth: 1.3, opacity: 1}});
    var step = cnt === 3 ? 22 : 26;
    n.icons.forEach(function (name, q) {
      var m = marks[name];
      items.push({value: n.at, symbol: m.path, symbolSize: m.tip,
        symbolOffset: [(q - (cnt - 1) / 2) * step, 0],
        itemStyle: {color: m.fill, borderColor: m.line || 'rgba(0,0,0,0)', borderWidth: m.line ? 1.6 : 0, opacity: 1}});
    });
    var from = n.from || [n.at[0], n.at[1] + (n.to[1] > n.at[1] ? 1 : -1) * (h / 2) / p.upp];
    lines.push([{coord: from}, {coord: n.to}]);
  });
  option.series.push({
    type: 'scatter', name: 'tips', xAxisIndex: i, yAxisIndex: i, z: 5,
    symbolKeepAspect: true, emphasis: {disabled: true}, silent: true,
    itemStyle: {opacity: 1},
    data: items,
    markLine: {silent: true, symbol: ['none', 'none'], animation: false,
      lineStyle: {color: '#444', width: 1, type: 'solid'}, label: {show: false},
      emphasis: {disabled: true}, data: lines}
  });
});

var chart = echarts.init(document.getElementById('main'));
chart.setOption(option);
</script>
</body>
</html>
